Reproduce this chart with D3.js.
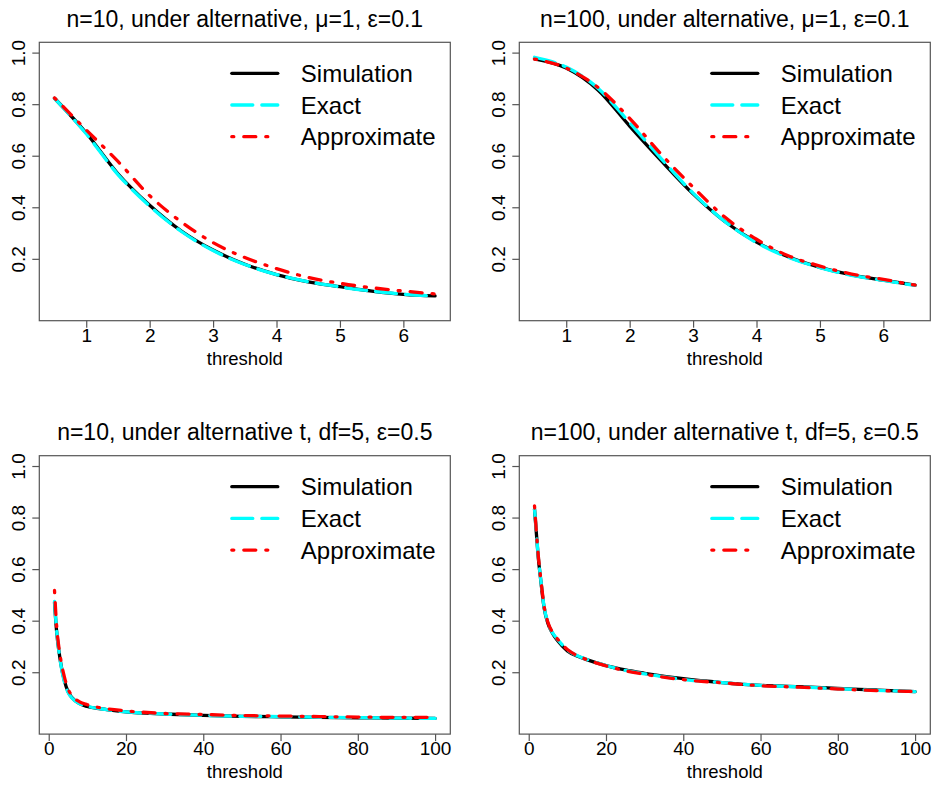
<!DOCTYPE html>
<html>
<head>
<meta charset="utf-8">
<script src="https://cdn.jsdelivr.net/npm/d3@7"></script>
<style>
	body { margin: 0; background: #fff; }
	svg text { font-family: "Liberation Sans", Arial, sans-serif; fill: #000; }
</style>
</head>
<body>
<svg id="chart" width="934" height="787"></svg>
<script>
//DATA
var titles = [
	'n=10, under alternative, \u03bc=1, \u03b5=0.1',
	'n=100, under alternative, \u03bc=1, \u03b5=0.1',
	'n=10, under alternative t, df=5, \u03b5=0.5',
	'n=100, under alternative t, df=5, \u03b5=0.5'
];
var seriesNames = ['Simulation', 'Exact', 'Approximate'];
var yTicks = [0.2, 0.4, 0.6, 0.8, 1.0];
var xTicksNormal = [1, 2, 3, 4, 5, 6];
var xTicksT = [0, 20, 40, 60, 80, 100];

var xNormal = [0.5, 1, 1.5, 2, 2.5, 3, 3.5, 4, 4.5, 5, 5.5, 6, 6.5];
var p1Sim    = [0.823, 0.688, 0.530, 0.408, 0.308, 0.234, 0.179, 0.139, 0.111, 0.092, 0.075, 0.062, 0.056];
var p1Exact  = [0.822, 0.685, 0.527, 0.405, 0.306, 0.232, 0.178, 0.139, 0.111, 0.091, 0.075, 0.063, 0.055];
var p1Approx = [0.824, 0.700, 0.578, 0.445, 0.343, 0.263, 0.205, 0.162, 0.128, 0.105, 0.088, 0.075, 0.064];

var p2Sim    = [0.976, 0.940, 0.855, 0.715, 0.580, 0.452, 0.345, 0.265, 0.208, 0.167, 0.138, 0.117, 0.098];
var p2Exact  = [0.982, 0.944, 0.862, 0.728, 0.588, 0.455, 0.345, 0.263, 0.206, 0.166, 0.136, 0.116, 0.097];
var p2Approx = [0.975, 0.940, 0.865, 0.745, 0.605, 0.478, 0.362, 0.276, 0.212, 0.172, 0.141, 0.120, 0.098];

var xT3 = [1.5, 2, 3, 4, 5, 6, 8, 10, 15, 20, 30, 40, 50, 60, 70, 80, 90, 100];
var p3Sim    = [0.470, 0.365, 0.245, 0.170, 0.125, 0.102, 0.078, 0.067, 0.055, 0.046, 0.038, 0.033, 0.029, 0.027, 0.025, 0.023, 0.022, 0.021];
var p3Exact  = [0.475, 0.370, 0.243, 0.165, 0.122, 0.100, 0.078, 0.068, 0.055, 0.046, 0.038, 0.033, 0.029, 0.028, 0.025, 0.024, 0.022, 0.021];
var p3Approx = [0.517, 0.390, 0.260, 0.185, 0.135, 0.110, 0.085, 0.074, 0.058, 0.050, 0.040, 0.036, 0.032, 0.030, 0.028, 0.026, 0.025, 0.025];

var xT4 = [1.5, 2, 2.5, 3, 4, 5, 6, 7.5, 10, 12.5, 15, 20, 25, 30, 40, 50, 60, 70, 80, 90, 100];
var p4Sim    = [0.833, 0.735, 0.640, 0.572, 0.448, 0.388, 0.355, 0.322, 0.283, 0.263, 0.249, 0.226, 0.209, 0.196, 0.175, 0.160, 0.149, 0.144, 0.137, 0.131, 0.125];
var p4Exact  = [0.833, 0.740, 0.645, 0.575, 0.452, 0.390, 0.357, 0.327, 0.287, 0.265, 0.250, 0.226, 0.207, 0.194, 0.172, 0.160, 0.149, 0.143, 0.136, 0.130, 0.125];
var p4Approx = [0.845, 0.742, 0.648, 0.578, 0.455, 0.392, 0.359, 0.328, 0.288, 0.265, 0.249, 0.225, 0.206, 0.192, 0.171, 0.159, 0.148, 0.142, 0.135, 0.129, 0.125];

//STYLES
var lineColors = ['#000000', '#00ffff', '#ff0000'];
var lineDash = [null, '21 9', '2 10 12 10'];
var frameCol = '#555555';

var panels = [
	{title: titles[0], xs: xNormal, ys: [p1Sim, p1Exact, p1Approx], xTicks: xTicksNormal, left: 39.3, top: 42.3},
	{title: titles[1], xs: xNormal, ys: [p2Sim, p2Exact, p2Approx], xTicks: xTicksNormal, left: 519.3, top: 42.3},
	{title: titles[2], xs: xT3, ys: [p3Sim, p3Exact, p3Approx], xTicks: xTicksT, left: 39.3, top: 455.7},
	{title: titles[3], xs: xT4, ys: [p4Sim, p4Exact, p4Approx], xTicks: xTicksT, left: 519.3, top: 455.7}
];
var boxW = 411, boxH = 278.4;

// R style 4% padding on each side
function padded(ext)
{
	var d = (ext[1] - ext[0]) * 0.04;
	return [ext[0] - d, ext[1] + d];
}

var svg = d3.select('#chart');

panels.forEach(function(p)
{
	var g = svg.append('g').attr('transform', 'translate(' + p.left + ',' + p.top + ')');

	var x = d3.scaleLinear().domain(padded(d3.extent(p.xs))).range([0, boxW]);
	var y = d3.scaleLinear().domain(padded([0, 1])).range([boxH, 0]);

	// curves
	var line = d3.line().curve(d3.curveMonotoneX);
	p.ys.forEach(function(vals, k) {
		var pts = p.xs.map(function(v, i) { return [x(v), y(vals[i])]; });
		g.append('path')
			.attr('d', line(pts))
			.attr('fill', 'none')
			.attr('stroke', lineColors[k])
			.attr('stroke-width', 3.3)
			.attr('stroke-linecap', 'round')
			.attr('stroke-linejoin', 'round')
			.attr('stroke-dasharray', lineDash[k]);
	});

	// frame
	g.append('rect')
		.attr('x', 0).attr('y', 0)
		.attr('width', boxW).attr('height', boxH)
		.attr('fill', 'none')
		.attr('stroke', frameCol)
		.attr('stroke-width', 1.2);

	// x axis
	var xAxis = g.append('g')
		.attr('transform', 'translate(0,' + boxH + ')')
		.call(d3.axisBottom(x).tickValues(p.xTicks).tickSize(7).tickSizeOuter(0).tickPadding(6).tickFormat(d3.format('d')));
	xAxis.select('.domain').remove();
	xAxis.selectAll('line').attr('stroke', frameCol).attr('stroke-width', 1.2);
	xAxis.selectAll('text')
		.attr('font-size', '19px')
		.attr('font-family', '"Liberation Sans", Arial, sans-serif')
		.attr('fill', '#000')
		.attr('y', 21).attr('dy', null);

	// y axis
	var yAxis = g.append('g')
		.call(d3.axisLeft(y).tickValues(yTicks).tickSize(7).tickSizeOuter(0).tickFormat(d3.format('.1f')));
	yAxis.select('.domain').remove();
	yAxis.selectAll('line').attr('stroke', frameCol).attr('stroke-width', 1.2);
	yAxis.selectAll('text')
		.attr('font-size', '19px')
		.attr('font-family', '"Liberation Sans", Arial, sans-serif')
		.attr('fill', '#000')
		.attr('x', null).attr('dy', null)
		.attr('text-anchor', 'middle')
		.attr('transform', 'translate(-14.3,0) rotate(-90)');

	// title and x label
	g.append('text')
		.attr('x', boxW / 2).attr('y', -15.6)
		.attr('text-anchor', 'middle')
		.attr('font-size', '23px')
		.text(p.title);
	g.append('text')
		.attr('x', boxW / 2).attr('y', boxH + 44.3)
		.attr('text-anchor', 'middle')
		.attr('font-size', '18.5px')
		.text('threshold');

	// legend
	var leg = g.selectAll('.legend')
		.data(seriesNames)
		.enter().append('g')
		.attr('class', 'legend')
		.attr('transform', function(d, i) { return 'translate(191,' + (31 + i * 31.7) + ')'; });
	leg.append('line')
		.attr('x1', 1.5).attr('x2', 47.5)
		.attr('y1', 0).attr('y2', 0)
		.attr('stroke', function(d, i) { return lineColors[i]; })
		.attr('stroke-width', 3.3)
		.attr('stroke-linecap', 'round')
		.attr('stroke-dasharray', function(d, i) { return lineDash[i]; });
	leg.append('text')
		.attr('x', 70.5).attr('y', 8.5)
		.attr('font-size', '24px')
		.text(function(d) { return d; });
});
</script>
</body>
</html>
